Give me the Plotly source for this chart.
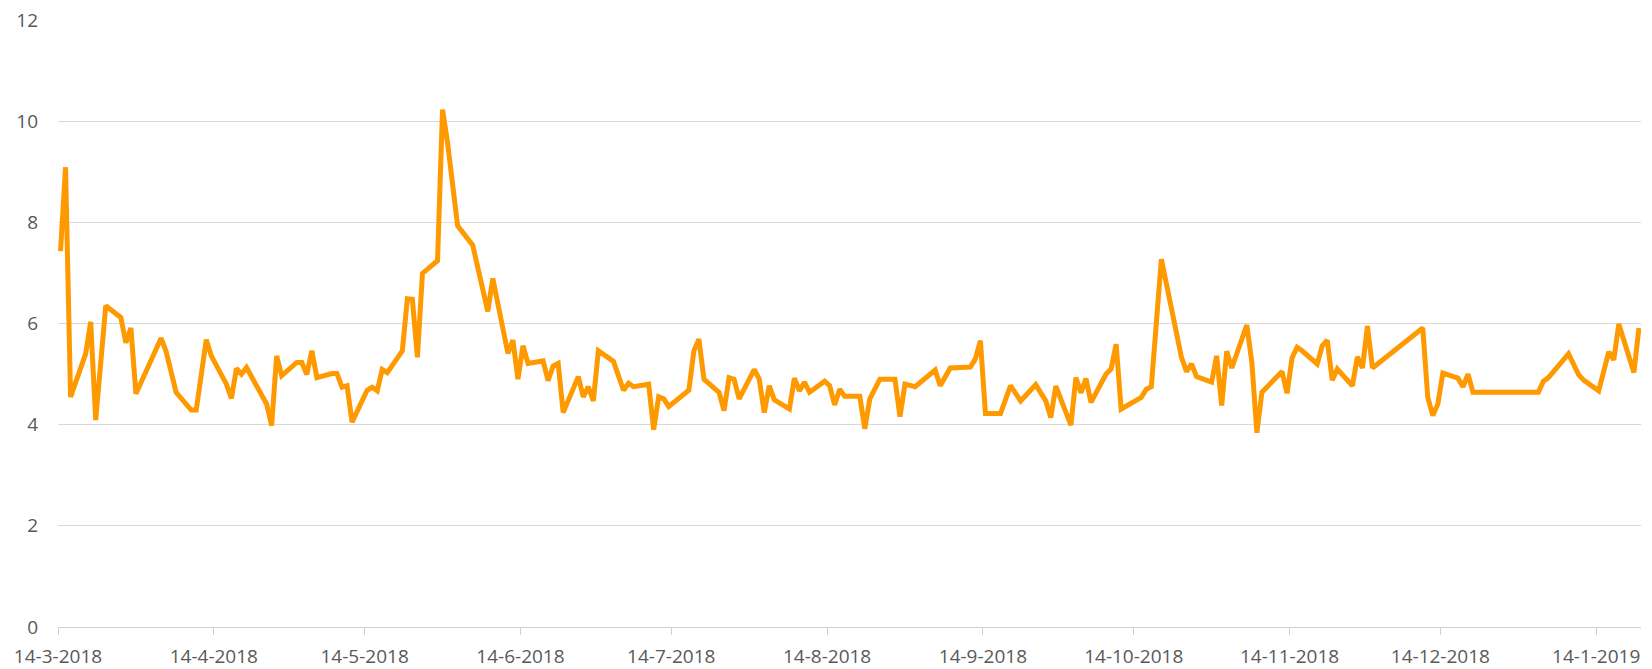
import pandas as pd
import plotly.graph_objects as go

dates = [
    "2018-03-14", "2018-03-15", "2018-03-16", "2018-03-19", "2018-03-20", "2018-03-21", "2018-03-23",
    "2018-03-26", "2018-03-27", "2018-03-28", "2018-03-29", "2018-04-03", "2018-04-04", "2018-04-05",
    "2018-04-06", "2018-04-09", "2018-04-10", "2018-04-12", "2018-04-13", "2018-04-16", "2018-04-17",
    "2018-04-18", "2018-04-19", "2018-04-20", "2018-04-23", "2018-04-24", "2018-04-25", "2018-04-26",
    "2018-04-27", "2018-04-30", "2018-05-01", "2018-05-02", "2018-05-03", "2018-05-04", "2018-05-07",
    "2018-05-08", "2018-05-09", "2018-05-10", "2018-05-11", "2018-05-14", "2018-05-15", "2018-05-16",
    "2018-05-17", "2018-05-18", "2018-05-21", "2018-05-22", "2018-05-23", "2018-05-24", "2018-05-25",
    "2018-05-28", "2018-05-29", "2018-05-30", "2018-06-01", "2018-06-04", "2018-06-07", "2018-06-08",
    "2018-06-11", "2018-06-12", "2018-06-13", "2018-06-14", "2018-06-15", "2018-06-18", "2018-06-19",
    "2018-06-20", "2018-06-21", "2018-06-22", "2018-06-25", "2018-06-26", "2018-06-27", "2018-06-28",
    "2018-06-29", "2018-07-02", "2018-07-04", "2018-07-05", "2018-07-06", "2018-07-09", "2018-07-10",
    "2018-07-11", "2018-07-12", "2018-07-13", "2018-07-17", "2018-07-18", "2018-07-19", "2018-07-20",
    "2018-07-23", "2018-07-24", "2018-07-25", "2018-07-26", "2018-07-27", "2018-07-30", "2018-07-31",
    "2018-08-01", "2018-08-02", "2018-08-03", "2018-08-06", "2018-08-07", "2018-08-08", "2018-08-09",
    "2018-08-10", "2018-08-13", "2018-08-14", "2018-08-15", "2018-08-16", "2018-08-17", "2018-08-20",
    "2018-08-21", "2018-08-22", "2018-08-24", "2018-08-27", "2018-08-28", "2018-08-29", "2018-08-31",
    "2018-09-04", "2018-09-05", "2018-09-07", "2018-09-11", "2018-09-12", "2018-09-13", "2018-09-14",
    "2018-09-17", "2018-09-19", "2018-09-21", "2018-09-24", "2018-09-26", "2018-09-27", "2018-09-28",
    "2018-10-01", "2018-10-02", "2018-10-03", "2018-10-04", "2018-10-05", "2018-10-08", "2018-10-09",
    "2018-10-10", "2018-10-11", "2018-10-15", "2018-10-16", "2018-10-17", "2018-10-19", "2018-10-23",
    "2018-10-24", "2018-10-25", "2018-10-26", "2018-10-29", "2018-10-30", "2018-10-31", "2018-11-01",
    "2018-11-02", "2018-11-05", "2018-11-06", "2018-11-07", "2018-11-08", "2018-11-12", "2018-11-13",
    "2018-11-14", "2018-11-15", "2018-11-16", "2018-11-19", "2018-11-20", "2018-11-21", "2018-11-22",
    "2018-11-23", "2018-11-26", "2018-11-27", "2018-11-28", "2018-11-29", "2018-11-30", "2018-12-10",
    "2018-12-11", "2018-12-12", "2018-12-13", "2018-12-14", "2018-12-17", "2018-12-18", "2018-12-19",
    "2018-12-20", "2019-01-02", "2019-01-03", "2019-01-04", "2019-01-08", "2019-01-10", "2019-01-11",
    "2019-01-14", "2019-01-16", "2019-01-17", "2019-01-18", "2019-01-21", "2019-01-22",
]

values = [
    7.43, 9.09, 4.55, 5.40, 6.03, 4.09, 6.35,
    6.12, 5.62, 5.91, 4.61, 5.71, 5.45, 5.00,
    4.64, 4.29, 4.29, 5.68, 5.36, 4.80, 4.52,
    5.11, 5.00, 5.13, 4.57, 4.41, 3.98, 5.36,
    4.97, 5.23, 5.23, 4.99, 5.46, 4.93, 5.01,
    5.01, 4.74, 4.77, 4.05, 4.68, 4.74, 4.67,
    5.09, 5.03, 5.46, 6.49, 6.48, 5.33, 6.99,
    7.24, 10.23, 9.57, 7.93, 7.55, 6.24, 6.89,
    5.41, 5.67, 4.90, 5.56, 5.21, 5.26, 4.87,
    5.16, 5.21, 4.24, 4.95, 4.55, 4.75, 4.47,
    5.46, 5.25, 4.68, 4.82, 4.75, 4.80, 3.90,
    4.55, 4.51, 4.36, 4.68, 5.46, 5.69, 4.90,
    4.64, 4.28, 4.93, 4.90, 4.51, 5.09, 4.90,
    4.24, 4.77, 4.49, 4.31, 4.92, 4.67, 4.84,
    4.64, 4.86, 4.77, 4.39, 4.70, 4.56, 4.56,
    3.92, 4.51, 4.90, 4.90, 4.16, 4.80, 4.75,
    5.08, 4.77, 5.12, 5.14, 5.30, 5.66, 4.22,
    4.22, 4.77, 4.47, 4.79, 4.47, 4.14, 4.76,
    3.99, 4.93, 4.63, 4.91, 4.44, 5.00, 5.10,
    5.59, 4.31, 4.54, 4.70, 4.75, 7.27, 5.33,
    5.05, 5.20, 4.95, 4.84, 5.36, 4.38, 5.45,
    5.12, 5.97, 5.23, 3.84, 4.64, 5.05, 4.62,
    5.32, 5.53, 5.46, 5.20, 5.56, 5.67, 4.88,
    5.10, 4.77, 5.34, 5.12, 5.95, 5.12, 5.91,
    4.54, 4.18, 4.41, 5.02, 4.92, 4.75, 5.00,
    4.64, 4.64, 4.86, 4.93, 5.40, 4.99, 4.88,
    4.67, 5.44, 5.28, 5.99, 5.03, 5.91,
]

tick_dates = [
    "2018-03-14", "2018-04-14", "2018-05-14", "2018-06-14", "2018-07-14", "2018-08-14",
    "2018-09-14", "2018-10-14", "2018-11-14", "2018-12-14", "2019-01-14",
]
tick_labels = [
    "14-3-2018", "14-4-2018", "14-5-2018", "14-6-2018", "14-7-2018", "14-8-2018",
    "14-9-2018", "14-10-2018", "14-11-2018", "14-12-2018", "14-1-2019",
]
y_ticks = [0, 2, 4, 6, 8, 10, 12]

# points sit in the middle of each day slot (date axis, between tick marks)
x = pd.to_datetime(dates) + pd.Timedelta(hours=12)

FONT = "Open Sans, Noto Sans, sans-serif"
FSIZE = 19

fig = go.Figure()
fig.add_trace(go.Scatter(
    x=x, y=values, mode="lines",
    line=dict(color="#FF9900", width=5),
    showlegend=False, hoverinfo="x+y",
))

fig.update_layout(
    width=1652, height=669,
    margin=dict(l=58, r=11, t=20, b=42),
    paper_bgcolor="white", plot_bgcolor="white",
    font=dict(family=FONT, size=FSIZE, color="#595959"),
    xaxis=dict(
        type="date", automargin=False,
        range=["2018-03-14", "2019-01-22 22:00"],
        tickvals=pd.to_datetime(tick_dates), ticktext=tick_labels,
        showgrid=False, zeroline=False,
        showline=True, linecolor="#D0D0D0", linewidth=1,
        ticks="outside", ticklen=7, tickcolor="#D0D0D0", tickwidth=1,
        ticklabelstandoff=5,
        tickfont=dict(family=FONT, size=FSIZE, color="#595959"),
    ),
    yaxis=dict(
        range=[0, 12], tickvals=y_ticks, automargin=False,
        showgrid=True, gridcolor="#D9D9D9", gridwidth=1,
        zeroline=False, showline=False, ticks="",
        ticklabelstandoff=19,
        tickfont=dict(family=FONT, size=FSIZE, color="#595959"),
    ),
)

fig.write_html(
    "out.html",
    config={"displayModeBar": False},
    post_script="document.body.style.margin='0';document.body.style.overflow='hidden';",
)
